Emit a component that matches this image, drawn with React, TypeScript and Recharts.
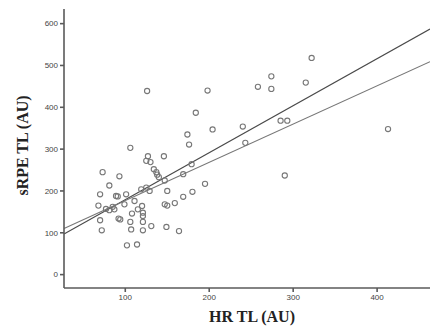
import { ReferenceLine, Scatter, ScatterChart, XAxis, YAxis, Label } from 'recharts';

// HR-based and session-RPE training loads, one entry per session
const hrTL = [
  126, 198, 184, 204, 174, 176, 106, 127, 146, 125, 130, 322, 274, 258, 274, 315, 240, 285,
  293, 243, 413, 290, 134, 137, 138, 140, 147, 169, 179, 195, 180, 169, 159, 147, 150, 150,
  149, 164, 131, 121, 121, 121, 121, 120, 125, 129, 119, 115, 108, 106, 107, 102, 114, 101,
  89, 91, 93, 81, 73, 70, 68, 70, 72, 77, 85, 81, 87, 92, 94, 99, 111,
];
const srpeTL = [
  439, 440, 387, 347, 335, 311, 303, 283, 283, 272, 269, 518, 474, 449, 444, 459, 354, 368,
  368, 315, 348, 237, 252, 245, 239, 233, 225, 240, 264, 217, 198, 186, 171, 168, 165, 200,
  114, 104, 116, 106, 126, 140, 148, 164, 208, 200, 204, 156, 146, 126, 108, 70, 72, 192,
  188, 187, 235, 213, 245, 192, 165, 130, 106, 157, 162, 154, 156, 134, 132, 168, 176,
];

// fit line end points at the edges of the x range
const fitSteep = [{ x: 27, y: 97 }, { x: 463, y: 587 }];
const fitFlat = [{ x: 27, y: 110 }, { x: 463, y: 509 }];

const xTicks = [100, 200, 300, 400];
const yTicks = [0, 100, 200, 300, 400, 500, 600];

const points = hrTL.map((x, i) => ({ x, y: srpeTL[i] }));

const tickStyle = { fontSize: 8, fill: '#444', fontFamily: 'Liberation Sans, Arial, sans-serif' };
const titleStyle = { fontSize: 16, fontWeight: 'bold', fill: '#222', fontFamily: 'Liberation Serif, Times New Roman, serif' };

const Ring = (props: any) => (
  <circle cx={props.cx} cy={props.cy} r={2.6} fill='none' stroke='#777' strokeWidth={1.1} />
);

const App = () => {
  return (
    <div style={{ position: 'absolute', left: 0, top: 0, background: '#fff' }}>
      <ScatterChart width={430} height={329} margin={{ top: 9, right: 0, bottom: 0, left: 0 }}>
        <XAxis
          type='number'
          dataKey='x'
          domain={[27, 463]}
          ticks={xTicks}
          allowDataOverflow
          height={41}
          tickSize={4}
          tickMargin={2}
          tick={tickStyle}
          stroke='#5a5a5a'
          strokeWidth={1.6}
        >
          <Label value='HR TL (AU)' position='center' dx={5} dy={8} style={titleStyle} />
        </XAxis>
        <YAxis
          type='number'
          dataKey='y'
          domain={[-32, 635]}
          ticks={yTicks}
          allowDataOverflow
          width={64}
          tickSize={4}
          tickMargin={2}
          tick={tickStyle}
          stroke='#5a5a5a'
          strokeWidth={1.6}
        >
          <Label value='sRPE TL (AU)' position='center' angle={-90} dx={-10} dy={-3} style={titleStyle} />
        </YAxis>
        <ReferenceLine segment={fitSteep} stroke='#4a4a4a' strokeWidth={1.1} ifOverflow='visible' />
        <ReferenceLine segment={fitFlat} stroke='#777' strokeWidth={1.1} ifOverflow='visible' />
        <Scatter data={points} shape={Ring} isAnimationActive={false} />
      </ScatterChart>
    </div>
  );
};

export default App;
